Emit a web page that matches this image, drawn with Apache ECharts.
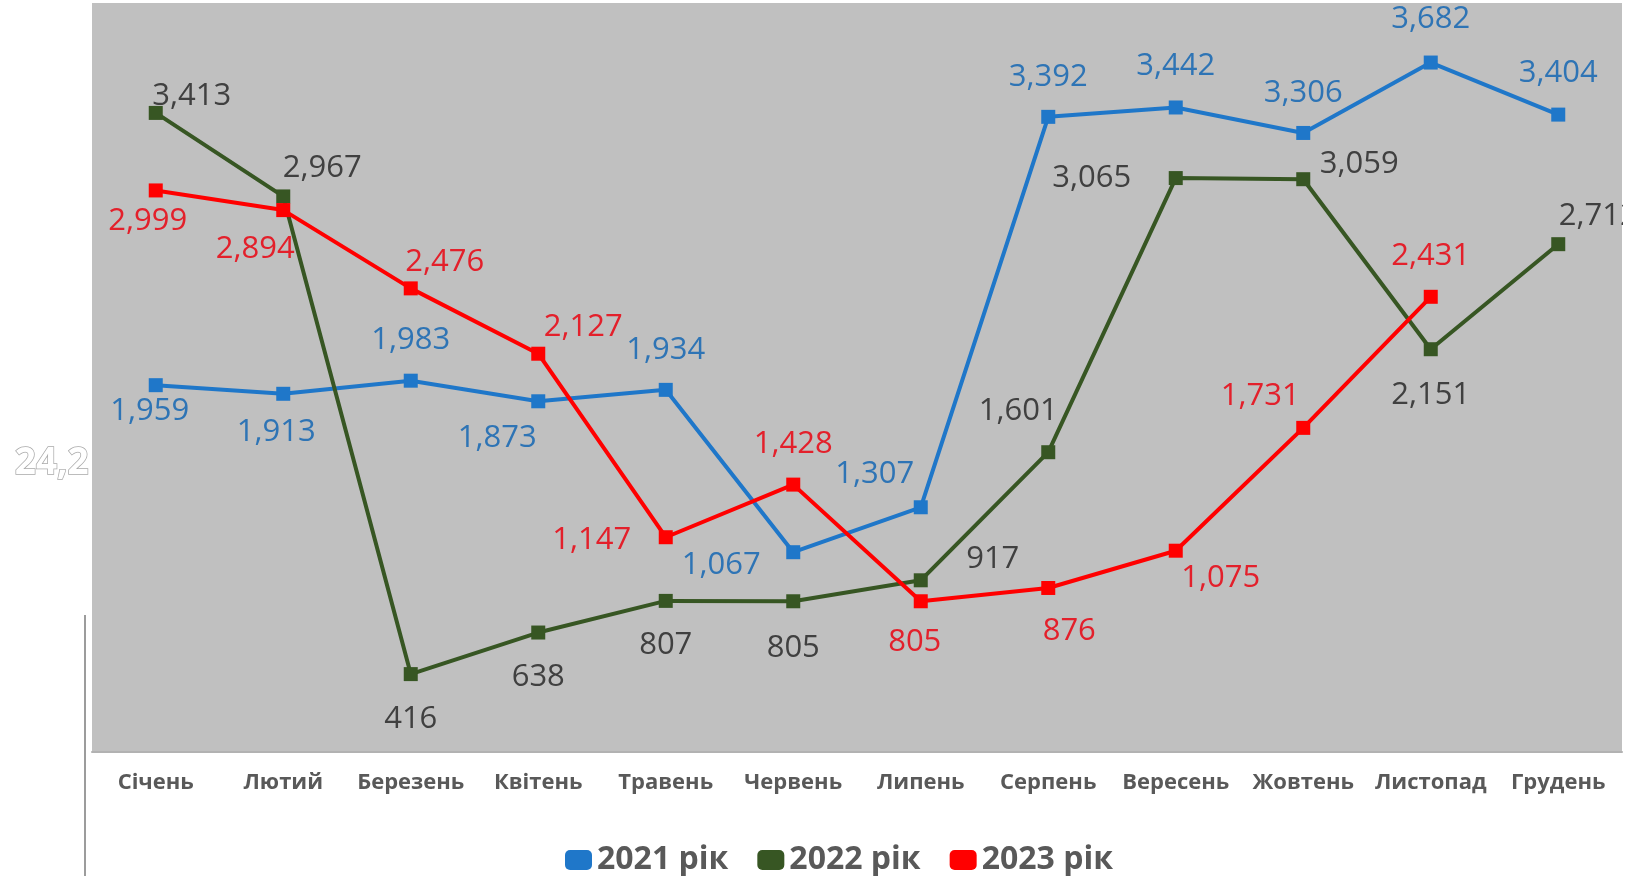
<!DOCTYPE html>
<html>
<head>
<meta charset="utf-8">
<script src="https://cdn.jsdelivr.net/npm/echarts@6/dist/echarts.min.js"></script>
<style>
    html, body { margin: 0; padding: 0; background: #fff; }
    #chart { width: 1638px; height: 876px; }
</style>
</head>
<body>
<div id="chart"></div>
<script>
// місяці
var months = ['Січень', 'Лютий', 'Березень', 'Квітень', 'Травень', 'Червень',
    'Липень', 'Серпень', 'Вересень', 'Жовтень', 'Листопад', 'Грудень'];

var seriesNames = ['2021 рік', '2022 рік', '2023 рік'];

var values2021 = [1959, 1913, 1983, 1873, 1934, 1067, 1307, 3392, 3442, 3306, 3682, 3404];
var values2022 = [3413, 2967, 416, 638, 807, 805, 917, 1601, 3065, 3059, 2151, 2712];
var values2023 = [2999, 2894, 2476, 2127, 1147, 1428, 805, 876, 1075, 1731, 2431, null];

// зміщення підписів від маркера (як в Excel, кожен підпис окремо)
var offsets2021 = [[-6, 26], [-7, 38], [0, -41], [-41, 37], [0, -40], [-72, 13],
    [-46, -33], [0, -40], [0, -41], [0, -40], [0, -43], [0, -41]];
var offsets2022 = [[36, -17], [39, -28], [0, 45], [0, 45], [0, 44], [0, 47],
    [72, -21], [-30, -41], [-84, 0], [56, -15], [0, 46], [40, -28]];
var offsets2023 = [[-8, 31], [-28, 39], [34, -26], [45, -27], [-74, 3], [0, -40],
    [-6, 41], [21, 43], [45, 27], [-43, -32], [0, -41], [0, 0]];

var lineColors = ['#1f77c9', '#375623', '#ff0000'];
var labelColors = ['#2e74b5', '#404040', '#e3202b'];

var FONT = '"Open Sans", sans-serif';

/**
 * будує точки серії з окремими підписами
 */
function makePoints(values, offsets) {
    return values.map(function(v, i) {
        if (v === null) {
            return null;
        }
        return {
            value: v,
            label: { offset: offsets[i] }
        };
    });
}

function makeSeries(idx, values, offsets) {
    return {
        name: seriesNames[idx],
        type: 'line',
        data: makePoints(values, offsets),
        symbol: 'rect',
        symbolSize: 14,
        lineStyle: { width: 4, color: lineColors[idx] },
        itemStyle: { color: lineColors[idx] },
        label: {
            show: true,
            position: 'inside',
            fontFamily: FONT,
            fontSize: 31,
            color: labelColors[idx],
            formatter: function(p) {
                return p.value.toLocaleString('en-US');
            }
        },
        emphasis: { disabled: true },
        animation: false
    };
}

var myChart = echarts.init(document.getElementById('chart'));

myChart.setOption({
    backgroundColor: '#fff',
    animation: false,
    grid: {
        left: 92,
        right: 16,
        top: 3,
        bottom: 124,
        show: true,
        backgroundColor: '#c0c0c0',
        borderWidth: 0
    },
    xAxis: {
        type: 'category',
        data: months,
        boundaryGap: true,
        axisTick: { show: false },
        axisLine: { lineStyle: { color: '#b2b2b2', width: 2 } },
        axisLabel: {
            interval: 0,
            margin: 20,
            fontFamily: FONT,
            fontWeight: 'bold',
            fontSize: 22,
            color: '#595959'
        }
    },
    yAxis: {
        type: 'value',
        min: 0,
        max: 4000,
        show: false,
        splitLine: { show: false }
    },
    legend: {
        data: seriesNames,
        left: 560,
        top: 839,
        icon: 'roundRect',
        itemWidth: 27,
        itemHeight: 20,
        itemGap: 29,
        textStyle: {
            fontFamily: FONT,
            fontWeight: 'bold',
            fontSize: 32,
            color: '#595959'
        }
    },
    graphic: [
        {
            type: 'rect',
            right: 0,
            top: 0,
            z: 100,
            shape: { width: 15, height: 760 },
            style: { fill: '#fff' }
        },
        {
            type: 'text',
            left: 14,
            top: 444,
            z: 100,
            style: {
                text: '24,2',
                font: 'bold 37px "Open Sans"',
                fill: '#fff',
                stroke: '#a9a9a9',
                lineWidth: 1.5
            }
        },
        {
            type: 'line',
            z: 100,
            shape: { x1: 85, y1: 615, x2: 85, y2: 876 },
            style: { stroke: '#9c9c9c', lineWidth: 2 }
        }
    ],
    series: [
        makeSeries(0, values2021, offsets2021),
        makeSeries(1, values2022, offsets2022),
        makeSeries(2, values2023, offsets2023)
    ]
});
</script>
</body>
</html>
